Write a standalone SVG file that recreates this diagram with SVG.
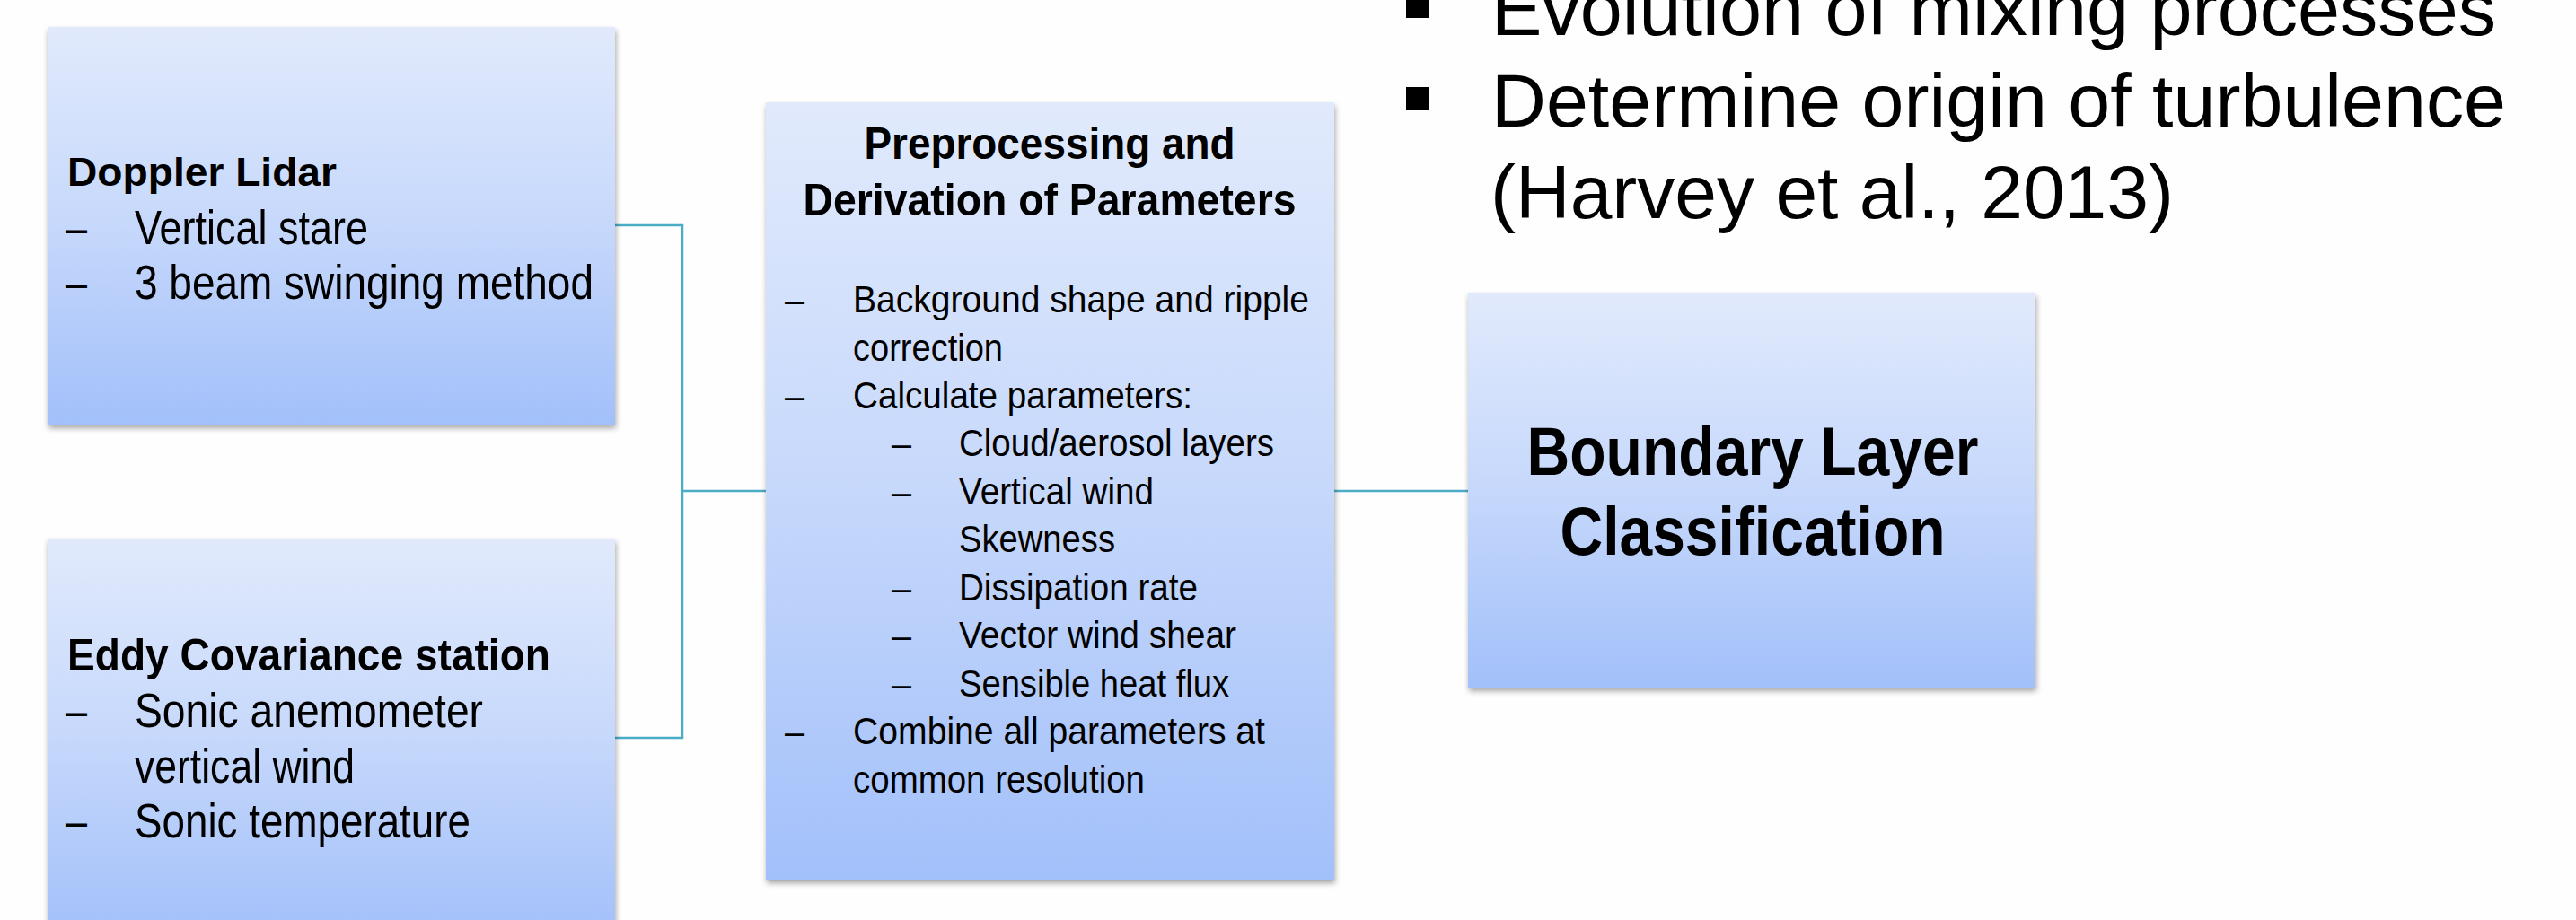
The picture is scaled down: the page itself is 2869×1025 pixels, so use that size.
<svg xmlns="http://www.w3.org/2000/svg" width="2869" height="1025" viewBox="0 0 2869 1025">
  <defs>
    <linearGradient id="boxFill" x1="0" y1="0" x2="0" y2="1">
      <stop offset="0" stop-color="#e1eafc"/>
      <stop offset="0.5" stop-color="#c6d8fb"/>
      <stop offset="1" stop-color="#a2c0fa"/>
    </linearGradient>
    <filter id="shadow" x="-5%" y="-5%" width="110%" height="115%">
      <feDropShadow dx="1" dy="4" stdDeviation="3" flood-color="#000" flood-opacity="0.35"/>
    </filter>
  </defs>
  <style>
    .box { fill: url(#boxFill); filter: url(#shadow); }
    .ttl { font-family: "Liberation Sans", Arial, sans-serif; font-weight: bold; fill: #000; }
    .itm { font-family: "Liberation Sans", Arial, sans-serif; fill: #000; }
    .big { font-family: "Liberation Sans", Arial, sans-serif; font-size: 84px; fill: #000; }
    .conn { fill: none; stroke: #4bacc6; stroke-width: 2.5; }
  </style>

  <rect width="2869" height="1025" fill="#fefefe"/>

  <!-- connectors -->
  <g id="connectors">
    <path class="conn" d="M685,251 H760 V822 H685"/>
    <path class="conn" d="M760,547 H853"/>
    <path class="conn" d="M1486,547 H1635"/>
  </g>

  <!-- Doppler Lidar -->
  <g id="node-doppler-lidar">
    <rect class="box" x="53" y="30" width="632" height="443"/>
    <text class="ttl" x="75" y="207" font-size="45" textLength="300" lengthAdjust="spacingAndGlyphs">Doppler Lidar</text>
    <g class="itm" font-size="53">
      <text x="73" y="272" textLength="24" lengthAdjust="spacingAndGlyphs">–</text>
      <text x="150" y="272" textLength="260" lengthAdjust="spacingAndGlyphs">Vertical stare</text>
      <text x="73" y="333" textLength="24" lengthAdjust="spacingAndGlyphs">–</text>
      <text x="150" y="333" textLength="511" lengthAdjust="spacingAndGlyphs">3 beam swinging method</text>
    </g>
  </g>

  <!-- Eddy Covariance station -->
  <g id="node-eddy-covariance">
    <rect class="box" x="53" y="600" width="632" height="443"/>
    <text class="ttl" x="75" y="747" font-size="50" textLength="538" lengthAdjust="spacingAndGlyphs">Eddy Covariance station</text>
    <g class="itm" font-size="53">
      <text x="73" y="810" textLength="24" lengthAdjust="spacingAndGlyphs">–</text>
      <text x="150" y="810" textLength="388" lengthAdjust="spacingAndGlyphs">Sonic anemometer</text>
      <text x="150" y="872" textLength="245" lengthAdjust="spacingAndGlyphs">vertical wind</text>
      <text x="73" y="933" textLength="24" lengthAdjust="spacingAndGlyphs">–</text>
      <text x="150" y="933" textLength="374" lengthAdjust="spacingAndGlyphs">Sonic temperature</text>
    </g>
  </g>

  <!-- Preprocessing and Derivation of Parameters -->
  <g id="node-preprocessing">
    <rect class="box" x="853" y="114" width="633" height="866"/>
    <text class="ttl" x="1169" y="177" font-size="50" text-anchor="middle" textLength="413" lengthAdjust="spacingAndGlyphs">Preprocessing and</text>
    <text class="ttl" x="1169" y="240" font-size="50" text-anchor="middle" textLength="549" lengthAdjust="spacingAndGlyphs">Derivation of Parameters</text>
    <g class="itm" font-size="42">
      <text x="874" y="348" textLength="22" lengthAdjust="spacingAndGlyphs">–</text>
      <text x="950" y="348" textLength="508" lengthAdjust="spacingAndGlyphs">Background shape and ripple</text>
      <text x="950" y="402" textLength="167" lengthAdjust="spacingAndGlyphs">correction</text>
      <text x="874" y="455" textLength="22" lengthAdjust="spacingAndGlyphs">–</text>
      <text x="950" y="455" textLength="378" lengthAdjust="spacingAndGlyphs">Calculate parameters:</text>
      <text x="993" y="508" textLength="22" lengthAdjust="spacingAndGlyphs">–</text>
      <text x="1068" y="508" textLength="351" lengthAdjust="spacingAndGlyphs">Cloud/aerosol layers</text>
      <text x="993" y="562" textLength="22" lengthAdjust="spacingAndGlyphs">–</text>
      <text x="1068" y="562" textLength="217" lengthAdjust="spacingAndGlyphs">Vertical wind</text>
      <text x="1068" y="615" textLength="174" lengthAdjust="spacingAndGlyphs">Skewness</text>
      <text x="993" y="669" textLength="22" lengthAdjust="spacingAndGlyphs">–</text>
      <text x="1068" y="669" textLength="266" lengthAdjust="spacingAndGlyphs">Dissipation rate</text>
      <text x="993" y="722" textLength="22" lengthAdjust="spacingAndGlyphs">–</text>
      <text x="1068" y="722" textLength="309" lengthAdjust="spacingAndGlyphs">Vector wind shear</text>
      <text x="993" y="776" textLength="22" lengthAdjust="spacingAndGlyphs">–</text>
      <text x="1068" y="776" textLength="301" lengthAdjust="spacingAndGlyphs">Sensible heat flux</text>
      <text x="874" y="829" textLength="22" lengthAdjust="spacingAndGlyphs">–</text>
      <text x="950" y="829" textLength="459" lengthAdjust="spacingAndGlyphs">Combine all parameters at</text>
      <text x="950" y="883" textLength="325" lengthAdjust="spacingAndGlyphs">common resolution</text>
    </g>
  </g>

  <!-- Boundary Layer Classification -->
  <g id="node-boundary-layer">
    <rect class="box" x="1635" y="326" width="632" height="440"/>
    <text class="ttl" x="1952" y="529" font-size="76" text-anchor="middle" textLength="503" lengthAdjust="spacingAndGlyphs">Boundary Layer</text>
    <text class="ttl" x="1952" y="618" font-size="76" text-anchor="middle" textLength="429" lengthAdjust="spacingAndGlyphs">Classification</text>
  </g>

  <!-- bullet list, top right -->
  <g id="bullets">
    <rect x="1566" y="-5" width="25" height="25" fill="#000"/>
    <rect x="1566" y="97" width="25" height="25" fill="#000"/>
    <text class="big" x="1661" y="39" textLength="1119" lengthAdjust="spacingAndGlyphs">Evolution of mixing processes</text>
    <text class="big" x="1661" y="141" textLength="1130" lengthAdjust="spacingAndGlyphs">Determine origin of turbulence</text>
    <text class="big" x="1660" y="243">(Harvey et al., 2013)</text>
  </g>
</svg>
